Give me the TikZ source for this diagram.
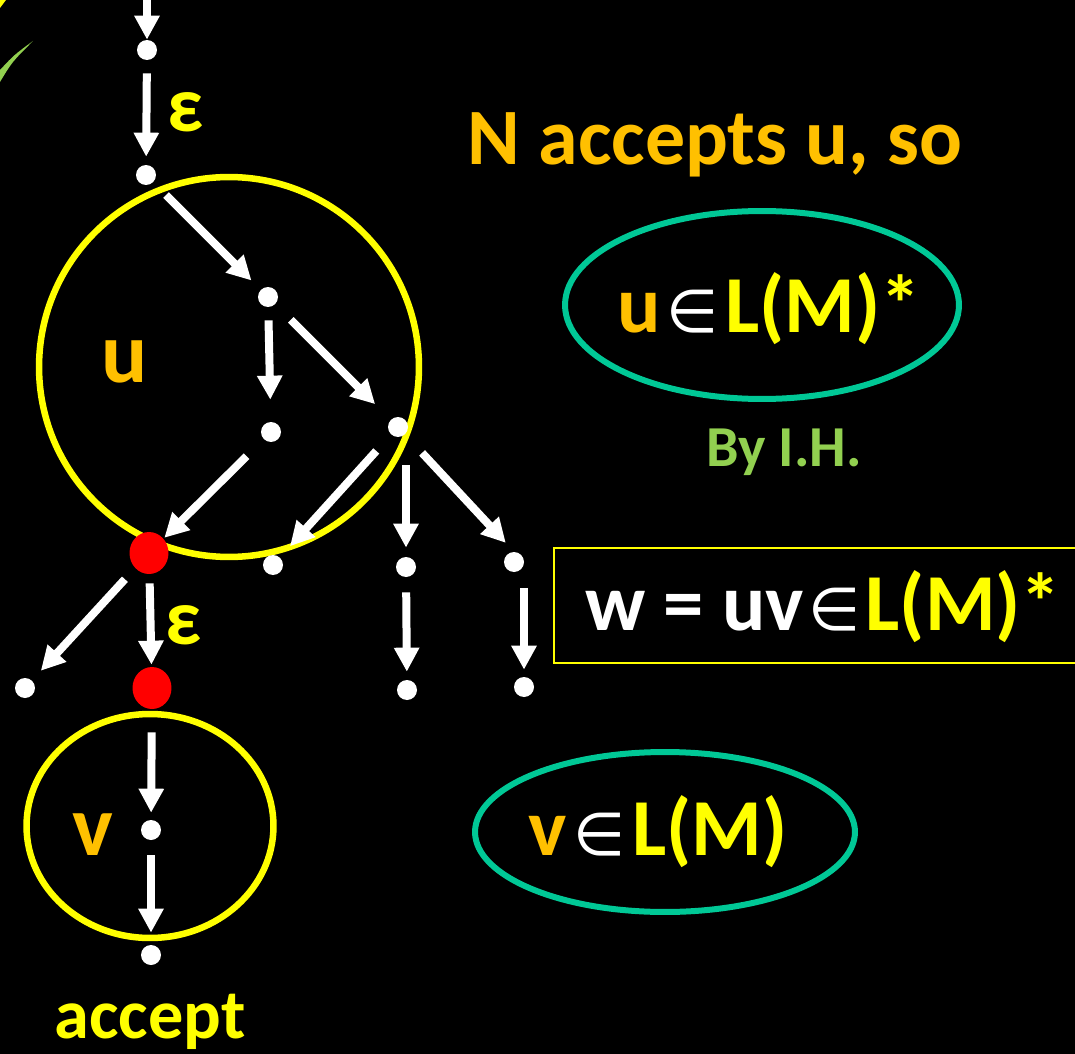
\documentclass[tikz,border=0pt]{standalone}
\usepackage{fontspec}
\setmainfont{Carlito}
\newfontfamily\symf{DejaVu Sans}
\usetikzlibrary{arrows.meta,shapes.geometric}
\definecolor{cyel}{HTML}{FFFF00}
\definecolor{corange}{HTML}{FFC000}
\definecolor{cteal}{HTML}{00C896}
\definecolor{cgreen}{HTML}{92D050}
\definecolor{cred}{HTML}{FF0000}
\newcommand\elemsym{{\symf\mdseries\fontsize{34}{34}\selectfont ∈}}
\tikzset{
  dot/.style={circle, fill=white, inner sep=0pt, minimum size=0.4cm},
  reddot/.style={ellipse, fill=cred, inner sep=0pt, minimum width=0.78cm, minimum height=0.84cm},
  arr/.style={draw=white, line width=0.16cm, -{Triangle[length=0.48cm, width=0.48cm]}, shorten <=0.26cm, shorten >=0.16cm},
  ring/.style={ellipse, draw=cyel, line width=0.13cm, inner sep=0pt},
  oval/.style={ellipse, draw=cteal, line width=0.12cm, inner sep=0pt},
  formula/.style={font=\bfseries\fontsize{46}{52}\selectfont, inner sep=0pt},
  lbl/.style={font=\bfseries\fontsize{#1}{#1}\selectfont, inner sep=0pt},
}
\begin{document}
\begin{tikzpicture}[x=0.02cm, y=-0.02cm]
\fill[black] (0,0) rectangle (1075,1054);
\useasboundingbox (0,0) rectangle (1075,1054);
\clip (0,0) rectangle (1075,1054);
% cut-off marks at the top-left
\fill[cgreen] (0,82) .. controls (12,62) .. (33,41) .. controls (14,55) .. (0,70) -- cycle;
\fill[cyel] (0,0) -- (6,0) -- (0,8) -- cycle;
% circles
\node[ring, minimum size=7.6cm] (ucirc) at (229,367) {};
\node[ring, minimum width=4.94cm, minimum height=4.48cm] (vcirc) at (150,826) {};
% states
\coordinate (top) at (147,-10);
\node[dot] (d0) at (147,50) {};
\node[dot] (d1) at (146,175) {};
\node[dot] (d2) at (268,297) {};
\node[dot] (d3) at (271,432) {};
\node[dot] (d4) at (398,427) {};
\node[reddot] (r1) at (149,553) {};
\node[dot] (d5) at (273,565) {};
\node[dot] (d6) at (406,567) {};
\node[dot] (d7) at (514,562) {};
\node[dot] (d8) at (25,688) {};
\node[reddot] (r2) at (152,688) {};
\node[dot] (d9) at (407,690) {};
\node[dot] (d10) at (524,687) {};
\node[dot] (d11) at (151,830) {};
\node[dot] (d12) at (151,955) {};
% arrows
\draw[arr, shorten <=0pt, shorten >=0pt] (top) -- (d0);
\draw[arr] (d0) -- (d1);
\draw[arr, shorten <=0.36cm, shorten >=0.26cm] (d1) -- (d2);
\draw[arr, shorten >=0.44cm] (d2) -- (d3);
\draw[arr, shorten <=0.44cm, shorten >=0.44cm] (d2) -- (d4);
\draw[arr, shorten <=0.48cm, shorten >=0.02cm] (d3) -- (r1);
\draw[arr, shorten <=0.44cm, shorten >=0.3cm] (d4) -- (d5);
\draw[arr, shorten <=0.76cm, shorten >=0.18cm] (d4 -| d6) -- (d6);
\draw[arr, shorten <=0.5cm, shorten >=0.24cm] (d4) -- (d7.north);
\draw[arr, shorten <=0.3cm, shorten >=0.26cm] (r1) -- (d8);
\draw[arr, shorten <=0.18cm, shorten >=0.04cm] (r1) -- (r2);
\draw[arr, shorten <=0.3cm] (d6) -- (d9);
\draw[arr, shorten <=0.52cm, shorten >=0.14cm] (d7 -| d10) -- (d10);
\draw[arr, shorten <=0.46cm, shorten >=0.14cm] (r2) -- (d11);
\draw[arr, shorten <=0.3cm, shorten >=0.24cm] (d11) -- (d12);
% labels
\node[lbl=45, text=cyel] (e1) at (186,112) {ε};
\node[lbl=45, text=cyel] (e2) at (184,625) {ε};
\node[lbl=49, text=corange] (ul) at (125,362) {u};
\node[lbl=49, text=corange] (vl) at (93,835) {v};
\node[lbl=40, text=cyel] (acc) at (150,1022) {accept};
\node[lbl=45.5, text=corange] (title) at (715,145) {N accepts u, so};
% ovals
\node[oval, minimum width=7.88cm, minimum height=3.76cm] (o1) at (762,305) {};
\node[formula] (o1txt) at (769,309)
  {\textcolor{corange}{u}\kern0.08em\textcolor{white}{\elemsym}\kern0.08em\textcolor{cyel}{L(M)*}};
\node[lbl=33, text=cgreen] (ih) at (784,452) {By I.H.};
\node[draw=cyel, line width=0.04cm, minimum width=11cm, minimum height=2.3cm, anchor=west] (box) at (553,605.5) {};
\node[formula, anchor=west] (wtxt) at (585,607)
  {\textcolor{white}{w = uv}\kern0.06em\textcolor{white}{\elemsym}\kern0.06em\textcolor{cyel}{L(M)*}};
\node[oval, minimum width=7.6cm, minimum height=3.2cm] (o2) at (665,832) {};
\node[formula] (o2txt) at (658,832)
  {\textcolor{corange}{v}\kern0.08em\textcolor{white}{\elemsym}\kern0.08em\textcolor{cyel}{L(M)}};
\end{tikzpicture}
\end{document}
